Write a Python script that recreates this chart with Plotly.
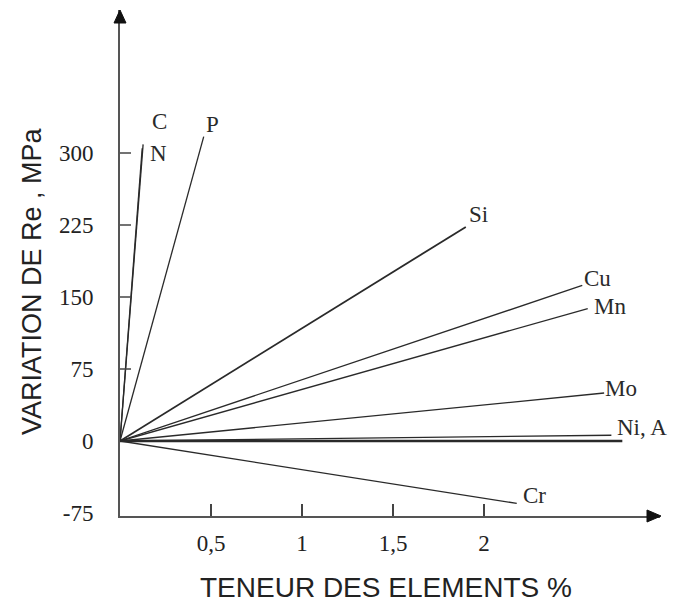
import plotly.graph_objects as go

# ---- data ----
elements = ["C", "N", "P", "Si", "Cu", "Mn", "Mo", "Ni, A", "Al", "Cr"]
end_content = [0.127, 0.122, 0.46, 1.90, 2.54, 2.57, 2.66, 2.70, 2.76, 2.18]   # % element
end_delta_re = [309, 305, 317, 223, 162, 138, 50, 6, 0, -65]                   # MPa

x_tick_vals = [0.5, 1, 1.5, 2]
x_tick_text = ["0,5", "1", "1,5", "2"]
y_tick_vals = [-75, 0, 75, 150, 225, 300]
y_tick_text = ["-75", "0", "75", "150", "225", "300"]
y_tick_marks = [75, 150, 225, 300]

x_title = "TENEUR DES ELEMENTS %"
y_title = "VARIATION DE Re , MPa"

# ---- layout geometry ----
W, H = 673, 603
L, R, T, B = 120, 13, 10, 87
PW, PH = W - L - R, H - T - B
X_RANGE = [0, PW / 182.0]
Y_RANGE = [(441 - (H - B)) / 0.96, (441 - T) / 0.96]


def px(xp):
    return (xp - L) / PW


def py(yp):
    return (H - B - yp) / PH


# styles per line: width
line_width = {"Si": 1.8, "Al": 2.6}
# label offsets (pixels) relative to each line end
label_shift = {
    "C": (16, 23), "N": (16, -5), "P": (9, 12), "Si": (13, 12),
    "Cu": (15, 7), "Mn": (22, 2), "Mo": (17, 5), "Ni, A": (31, 8),
    "Cr": (18, 8),
}

ink = "#2a2a2a"
serif = "Liberation Serif, Times New Roman, serif"
sans = "Liberation Sans, Arial, sans-serif"

fig = go.Figure()
for name, xe, ye in zip(elements, end_content, end_delta_re):
    fig.add_trace(go.Scatter(
        x=[0, xe], y=[0, ye], mode="lines", name=name,
        line=dict(color=ink, width=line_width.get(name, 1.3)),
        showlegend=False, hoverinfo="skip",
    ))

annotations = []
for name, xe, ye in zip(elements, end_content, end_delta_re):
    if name not in label_shift:
        continue
    dx, dy = label_shift[name]
    annotations.append(dict(
        x=xe, y=ye, xref="x", yref="y", text=name, showarrow=False,
        xanchor="center", yanchor="middle", xshift=dx, yshift=dy,
        font=dict(family=serif, size=23, color=ink),
    ))

annotations.append(dict(
    x=px(386), y=py(587), xref="paper", yref="paper", text=x_title,
    showarrow=False, xanchor="center", yanchor="middle",
    font=dict(family=sans, size=28, color="#222"),
))
annotations.append(dict(
    x=px(32), y=py(281), xref="paper", yref="paper", text=y_title,
    showarrow=False, xanchor="center", yanchor="middle", textangle=-90,
    font=dict(family=sans, size=27, color="#222"),
))

shapes = []
# y tick marks (inside)
for v in y_tick_marks:
    shapes.append(dict(type="line", xref="paper", yref="y",
                       x0=0, x1=11 / PW, y0=v, y1=v,
                       line=dict(color="#444", width=1.5)))
# arrow heads
shapes.append(dict(
    type="path", xref="paper", yref="paper",
    path=f"M{px(120)},{py(10)} L{px(114)},{py(23)} L{px(126)},{py(23)} Z",
    fillcolor="#111", line=dict(color="#111", width=1),
))
shapes.append(dict(
    type="path", xref="paper", yref="paper",
    path=f"M{px(661)},{py(516)} L{px(647)},{py(510)} L{px(647)},{py(522)} Z",
    fillcolor="#111", line=dict(color="#111", width=1),
))

fig.update_layout(
    width=W, height=H,
    margin=dict(l=L, r=R, t=T, b=B, pad=0),
    paper_bgcolor="white", plot_bgcolor="white",
    showlegend=False,
    annotations=annotations, shapes=shapes,
    xaxis=dict(
        range=X_RANGE, showgrid=False, zeroline=False,
        showline=True, linecolor="#555", linewidth=2,
        tickmode="array", tickvals=x_tick_vals, ticktext=x_tick_text,
        ticks="inside", ticklen=12, tickwidth=1.5, tickcolor="#444",
        ticklabelstandoff=5,
        tickfont=dict(family=serif, size=23, color="#222"),
    ),
    yaxis=dict(
        range=Y_RANGE, showgrid=False, zeroline=False,
        showline=True, linecolor="#555", linewidth=2,
        tickmode="array", tickvals=y_tick_vals, ticktext=y_tick_text,
        ticks="", ticklabelstandoff=20,
        tickfont=dict(family=serif, size=23, color="#222"),
    ),
)

fig.write_html("out.html")
